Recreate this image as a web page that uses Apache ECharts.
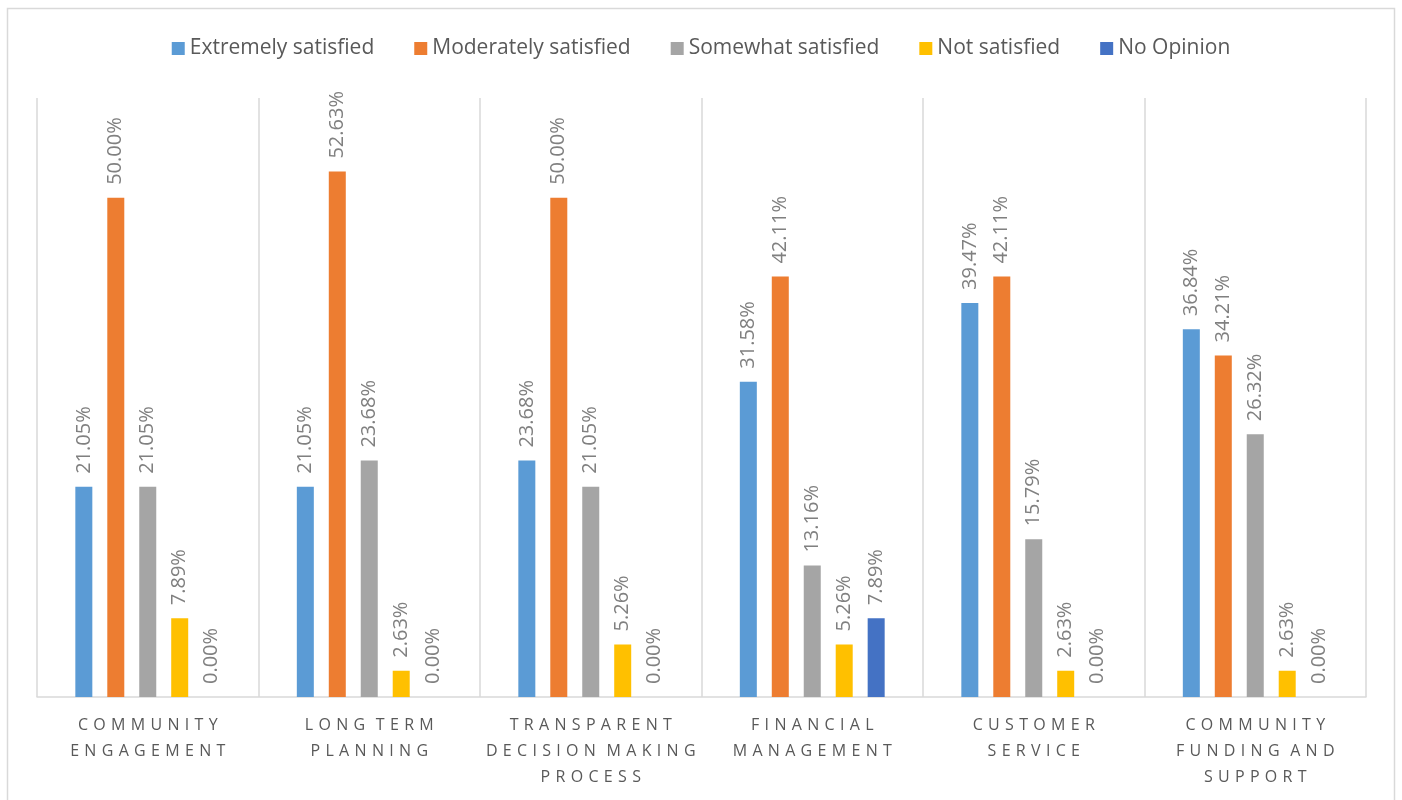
<!DOCTYPE html>
<html>
<head>
<meta charset="utf-8">
<script src="https://cdn.jsdelivr.net/npm/echarts@6/dist/echarts.min.js"></script>
<style>
html,body{margin:0;padding:0;background:#fff;}
#main{width:1402px;height:800px;}
</style>
</head>
<body>
<div id="main"></div>
<script>
var categories = [
  'COMMUNITY\nENGAGEMENT',
  'LONG TERM\nPLANNING',
  'TRANSPARENT\nDECISION MAKING\nPROCESS',
  'FINANCIAL\nMANAGEMENT',
  'CUSTOMER\nSERVICE',
  'COMMUNITY\nFUNDING AND\nSUPPORT'
];
var seriesNames = ['Extremely satisfied', 'Moderately satisfied', 'Somewhat satisfied', 'Not satisfied', 'No Opinion'];
var extremely = [21.05, 21.05, 23.68, 31.58, 39.47, 36.84];
var moderately = [50.00, 52.63, 50.00, 42.11, 42.11, 34.21];
var somewhat = [21.05, 23.68, 21.05, 13.16, 15.79, 26.32];
var notSatisfied = [7.89, 2.63, 5.26, 5.26, 2.63, 2.63];
var noOpinion = [0.00, 0.00, 0.00, 7.89, 0.00, 0.00];
var colors = ['#5B9BD5', '#ED7D31', '#A5A5A5', '#FFC000', '#4472C4'];

var chart = echarts.init(document.getElementById('main'));
var dataSets = [extremely, moderately, somewhat, notSatisfied, noOpinion];
var FONT = '"Open Sans", "Noto Sans", sans-serif';

var LETTER_GAP = '\u2009\u2009';
var WORD_GAP = '\u2009\u2009\u2009\u2009';
function spaced(s) {
  return s.split('\n').map(function (line) {
    return line.split(' ').map(function (w) {
      return w.split('').join(LETTER_GAP);
    }).join(WORD_GAP);
  }).join('\n');
}

var series = dataSets.map(function (d, i) {
  return {
    name: seriesNames[i],
    type: 'bar',
    data: d,
    barWidth: 17,
    barGap: '88%',
    itemStyle: { color: colors[i] },
    label: {
      show: true,
      position: 'top',
      rotate: 90,
      align: 'left',
      verticalAlign: 'middle',
      distance: 13,
      color: '#808080',
      fontSize: 20,
      fontFamily: FONT,
      formatter: function (p) { return p.value.toFixed(2) + '%'; }
    }
  };
});

chart.setOption({
  color: colors,
  animation: false,
  textStyle: { fontFamily: FONT },
  graphic: [{
    type: 'rect',
    shape: { x: 7.5, y: 8.5, width: 1387, height: 800 },
    style: { fill: null, stroke: '#d9d9d9', lineWidth: 1.5 },
    silent: true
  }],
  legend: {
    top: 33,
    left: 'center',
    itemWidth: 13,
    itemHeight: 13,
    itemGap: 40,
    icon: 'rect',
    textStyle: { color: '#595959', fontSize: 21, fontFamily: FONT },
    data: seriesNames
  },
  grid: { left: 37, right: 36, top: 98, bottom: 103, containLabel: false },
  xAxis: {
    type: 'category',
    data: categories,
    axisLine: { show: true, lineStyle: { color: '#d9d9d9', width: 1.5 } },
    axisTick: { show: false },
    splitLine: { show: true, lineStyle: { color: '#d9d9d9', width: 1.5 } },
    axisLabel: {
      color: '#595959',
      fontSize: 16,
      fontFamily: FONT,
      lineHeight: 26,
      margin: 15,
      interval: 0,
      formatter: function (v) { return spaced(v); }
    }
  },
  yAxis: {
    type: 'value',
    min: 0,
    max: 60,
    interval: 10,
    show: false,
    splitLine: { show: false }
  },
  series: series
});
</script>
</body>
</html>
